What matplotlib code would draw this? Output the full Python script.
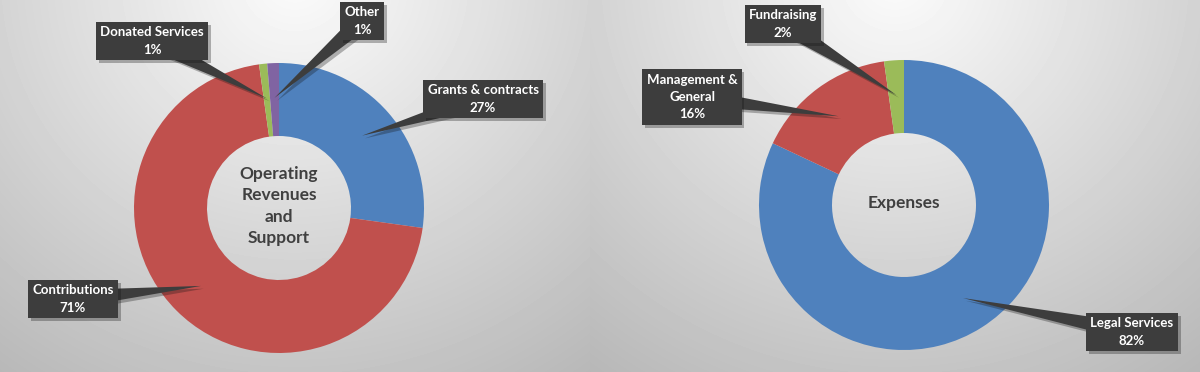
import numpy as np
import matplotlib
matplotlib.use("Agg")
from matplotlib import pyplot as plt
import matplotlib.patheffects as pe
from matplotlib.patches import Polygon

plt.rcParams['font.family'] = ['Lato', 'DejaVu Sans']

W, H = 1200, 372
R_OUT, R_IN = 145, 72

# data
rev_labels = ['Grants & contracts', 'Contributions', 'Donated Services', 'Other']
rev_values = [27.2, 70.6, 0.9, 1.3]
rev_pct = ['27%', '71%', '1%', '1%']
rev_colors = ['#4F81BD', '#C0504D', '#9BBB59', '#8064A2']

exp_labels = ['Legal Services', 'Management &\nGeneral', 'Fundraising']
exp_values = [82.0, 15.8, 2.2]
exp_pct = ['82%', '16%', '2%']
exp_colors = ['#4F81BD', '#C0504D', '#9BBB59']

# label box centres (pixels from top-left)
rev_boxes = [(483, 99), (73, 299), (152, 41), (362, 21)]
exp_boxes = [(1132, 332), (692, 97), (783, 24)]

BOX = '#3d3d3d'

fig = plt.figure(figsize=(12, 3.72), dpi=100)
ax = fig.add_axes([0, 0, 1, 1])

# background: two radial gradients
xx, yy = np.meshgrid(np.arange(W) + 0.5, np.arange(H) + 0.5)
bg = np.zeros((H, W))
for x0, x1, cx in [(0, 590, 295), (590, W, 895)]:
    d = np.hypot(xx - cx, (yy + 20) * 1.05) / 480.0
    v = 0.985 - 0.25 * np.clip(d, 0, 1.3) ** 1.0
    bg[:, x0:x1] = v[:, x0:x1]
ax.imshow(bg, cmap='gray', vmin=0, vmax=1, extent=(0, W, 0, H),
          origin='upper', zorder=0, interpolation='bilinear')


def donut(cx, cy, values, colors, labels, pcts, boxes, title):
    y0 = H - cy
    wedges, _ = ax.pie(values, colors=colors, startangle=90, counterclock=False,
                       radius=R_OUT, center=(cx, y0),
                       wedgeprops=dict(width=R_OUT - R_IN, linewidth=0))
    for w in wedges:
        w.set_zorder(2)
    for w, lab, pct, (bx, by) in zip(wedges, labels, pcts, boxes):
        mid = np.deg2rad((w.theta1 + w.theta2) / 2)
        tx = cx + 0.76 * R_OUT * np.cos(mid)
        ty = y0 + 0.76 * R_OUT * np.sin(mid)
        by = H - by
        vx, vy = tx - bx, ty - by
        n = np.hypot(vx, vy)
        px, py = -vy / n * 9, vx / n * 9
        tri = Polygon([(bx + px, by + py), (bx - px, by - py), (tx, ty)],
                      closed=True, fc=BOX, ec='none', zorder=4)
        tri.set_path_effects([pe.withSimplePatchShadow(offset=(2, -2), alpha=0.3)])
        ax.add_patch(tri)
        t = ax.text(bx, by, lab + '\n' + pct, ha='center', va='center',
                    fontsize=9.5, fontweight='bold', color='white',
                    linespacing=1.55, zorder=5,
                    bbox=dict(boxstyle='square,pad=0.32', fc=BOX, ec='none'))
        t.get_bbox_patch().set_path_effects(
            [pe.withSimplePatchShadow(offset=(2, -2), alpha=0.3)])
    ax.text(cx, y0 + 2, title, ha='center', va='center', fontsize=12.5,
            fontweight='bold', color='#404040', linespacing=1.4, zorder=3)


donut(279, 208, rev_values, rev_colors, rev_labels, rev_pct, rev_boxes,
      'Operating\nRevenues\nand\nSupport')
donut(904, 205, exp_values, exp_colors, exp_labels, exp_pct, exp_boxes,
      'Expenses')

ax.set_xlim(0, W)
ax.set_ylim(0, H)
ax.set_aspect('auto')
ax.axis('off')

fig.savefig('out.png', dpi=100)
